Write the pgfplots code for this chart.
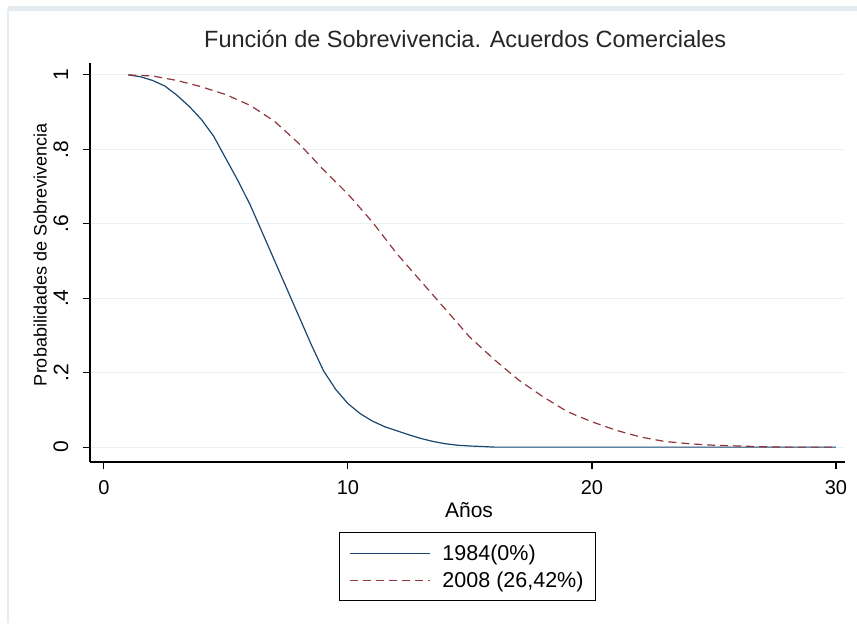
\documentclass[border=0pt]{standalone}
\usepackage{fontspec}
\setmainfont{Liberation Sans}
\usepackage{pgfplots}
\pgfplotsset{compat=1.18}
\definecolor{stnavy}{HTML}{1A476F}
\definecolor{stmaroon}{HTML}{90353B}
\definecolor{stgrid}{HTML}{EAF2F3}
\definecolor{frameg}{HTML}{E4ECEF}
\begin{document}
\begin{tikzpicture}
\fill[white] (0pt,0pt) rectangle (857pt,623pt);
\fill[frameg] (8pt,612pt) rectangle (857pt,617pt);
\draw[frameg, line width=1.2pt] (8pt,0pt) -- (8pt,614pt);
\begin{axis}[
  at={(90pt,161pt)}, anchor=south west,
  width=755pt, height=399pt, scale only axis,
  xmin=-0.57, xmax=30.37, ymin=-0.04, ymax=1.032,
  axis x line*=bottom, axis y line*=left,
  axis line style={-, line width=1.1pt, black},
  tick align=outside, major tick length=7pt,
  tick style={line width=1.1pt, black},
  xtick={0,10,20,30},
  ytick={0,0.2,0.4,0.6,0.8,1},
  yticklabels={0,.2,.4,.6,.8,1},
  minor tick num=0,
  /pgf/number format/assume math mode=true,
  ymajorgrids, grid style={stgrid, line width=1pt},
  tick label style={font=\fontsize{20}{24}\selectfont},
  xticklabel style={anchor=center, yshift=-19pt},
  yticklabel style={xshift=-22pt, rotate=90, anchor=center, font=\fontsize{21}{24}\selectfont},
  title={Función de Sobrevivencia. Acuerdos Comerciales},
  title style={at={(axis description cs:0.497,1.025)}, anchor=base, font=\fontsize{23.5}{28}\selectfont, text=black!85},
  xlabel={Años},
  xlabel style={at={(axis description cs:0.502,-0.12)}, anchor=center, font=\fontsize{21}{25}\selectfont},
  ylabel={Probabilidades de Sobrevivencia},
  ylabel style={at={(axis description cs:-0.066,0.519)}, anchor=center, font=\fontsize{18}{22}\selectfont},
  legend style={at={(axis description cs:0.5,-0.1754)}, anchor=north, draw=black, line width=1pt,
    font=\fontsize{21.5}{25}\selectfont, inner xsep=10pt, inner ysep=10pt, row sep=6pt,
    /tikz/every odd column/.append style={column sep=10pt}},
  legend cell align=left,
  legend image code/.code={\draw[line width=1pt, #1] (0pt,0pt) -- (80pt,0pt);},
]
\addplot[stnavy, line width=1.2pt] coordinates {
(1,1.0) (1.5,0.995) (2,0.985) (2.5,0.97) (3,0.945) (3.5,0.915) (4,0.88) (4.5,0.835)
(5,0.775) (5.5,0.715) (6,0.65) (6.5,0.575) (7,0.5) (7.5,0.425) (8,0.35) (8.5,0.275)
(9,0.205) (9.5,0.155) (10,0.117) (10.5,0.09) (11,0.07) (11.5,0.055) (12,0.044) (12.5,0.033)
(13,0.023) (13.5,0.015) (14,0.009) (14.5,0.005) (15,0.003) (15.7,0.001) (16,0) (30,0)
};
\addlegendentry{1984(0\%)}
\addplot[stmaroon, line width=1.2pt, dash pattern=on 8pt off 5pt] coordinates {
(1,1.0) (2,0.997) (3,0.985) (4,0.968) (5,0.947) (6,0.918) (7,0.875) (8,0.815)
(9,0.745) (10,0.68) (11,0.605) (12,0.52) (13,0.445) (14,0.37) (15,0.295) (16,0.235)
(17,0.18) (18,0.135) (19,0.095) (20,0.068) (21,0.045) (22,0.027) (23,0.015) (24,0.009)
(25,0.005) (26,0.003) (27,0.001) (28,0) (30,0)
};
\addlegendentry{2008 (26,42\%)}
\end{axis}
\end{tikzpicture}
\end{document}
